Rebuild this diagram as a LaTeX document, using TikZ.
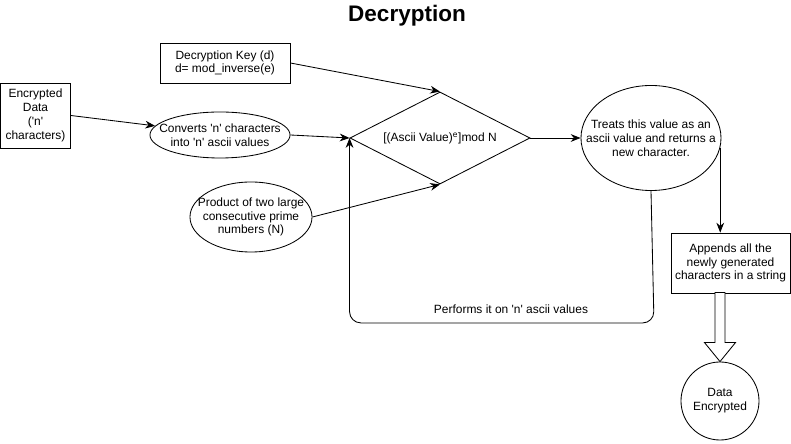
\documentclass[tikz,border=0pt]{standalone}
\usepackage{fontspec}
\setmainfont{Liberation Sans}
\usepackage{tikz}
\usetikzlibrary{shapes.geometric, arrows.meta, positioning, calc}

\newcommand{\sq}{\textquotesingle}

\begin{document}
\begin{tikzpicture}[
            x=0.025cm, y=-0.025cm,
            every node/.style={font=\fontsize{8.5}{9.8}\selectfont},
            box/.style={
                    rectangle, draw, line width=0.6pt,
                    align=center, inner sep=1pt
                },
            oval/.style={
                    ellipse, draw, line width=0.6pt,
                    inner sep=0pt
                },
            decision/.style={
                    diamond, draw, line width=0.6pt,
                    inner sep=0pt, minimum width=4.5cm, minimum height=2.3cm
                },
            txt/.style={align=center, inner sep=0pt},
            arrow/.style={-{Stealth[length=7pt,width=5.5pt]}, line width=0.6pt}
        ]
        \useasboundingbox (0,0) rectangle (791,444);

        \node[font=\fontsize{16}{19}\bfseries\selectfont] (title) at (407,16) {Decryption};

        % inputs
        \node[box, minimum width=1.75cm, minimum height=1.625cm] (encdata) at (35.5,115.5)
            {Encrypted\\Data\\(\sq n\sq\\characters)};
        \node[box, minimum width=3.25cm, minimum height=1cm] (key) at (225,63)
            {Decryption Key (d)\\d= mod\_inverse(e)};
        \node[oval, minimum width=3.5cm, minimum height=1.15cm] (conv) at (220,135) {};
        \node[txt] (convtxt) at (conv) {Converts \sq n\sq\ characters\\into \sq n\sq\ ascii values};
        \node[oval, minimum width=3.05cm, minimum height=1.75cm] (prod) at (251,217) {};
        \node[txt] (prodtxt) at (prod) {Product of two large\\consecutive prime\\numbers (N)};

        % computation
        \node[decision] (calc) at (440,138) {};
        \node[txt] (calctxt) at (calc) {[(Ascii Value)\textsuperscript{e}]mod N};
        \node[oval, minimum width=3.5cm, minimum height=2.625cm] (treat) at (651,138) {};
        \node[txt] (treattxt) at (treat) {Treats this value as an\\ascii value and returns a\\new character.};

        % output
        \node[box, minimum width=2.975cm, minimum height=1.5cm] (append) at (730.5,263)
            {Appends all the\\newly generated\\characters in a string};
        \node[circle, draw, line width=0.6pt, minimum size=1.95cm, align=center, inner sep=0pt] (done) at (720,401)
            {Data\\Encrypted};

        \draw[arrow] (encdata.east) -- (conv.172);
        \draw[arrow] (key.east) -- (calc.north);
        \draw[arrow] (conv.east) -- (calc.west);
        \draw[arrow] (prod.east) -- (calc.south);
        \draw[arrow] (calc.east) -- (treat.west);
        \draw[arrow] (treat.-8) -- (treat.-8 |- append.north);
        \draw[arrow, rounded corners=8] (treat.south) -- ++(3,132) -| (calc.west);
        \node[txt] (loop) at (511,309) {Performs it on \sq n\sq\ ascii values};

        % hollow arrow
        \draw[line width=0.6pt, fill=white] (done.north) -- ++(-15.5,-19) -- ++(10.5,0) -- ++(0,-50)
            -- ++(10,0) -- ++(0,50) -- ++(10.5,0) -- cycle;
    \end{tikzpicture}
\end{document}
